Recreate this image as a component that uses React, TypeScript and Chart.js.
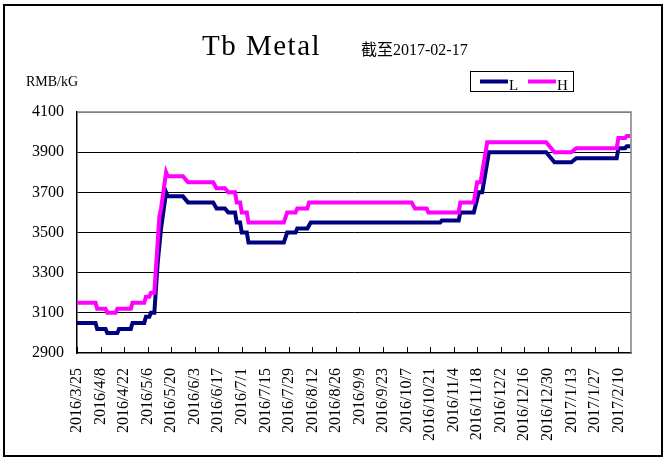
import React, { useEffect, useRef } from "react";
import { Chart, registerables } from "chart.js";

Chart.register(...registerables);

const tickLabels = [
  "2016/3/25", "2016/4/8", "2016/4/22", "2016/5/6", "2016/5/20", "2016/6/3",
  "2016/6/17", "2016/7/1", "2016/7/15", "2016/7/29", "2016/8/12", "2016/8/26",
  "2016/9/9", "2016/9/23", "2016/10/7", "2016/10/21", "2016/11/4", "2016/11/18",
  "2016/12/2", "2016/12/16", "2016/12/30", "2017/1/13", "2017/1/27", "2017/2/10",
];

const yTicks = [2900, 3100, 3300, 3500, 3700, 3900, 4100];

const hDates = [
  "2016-03-25", "2016-04-05", "2016-04-06", "2016-04-11", "2016-04-12", "2016-04-17",
  "2016-04-18", "2016-04-26", "2016-04-27", "2016-05-04", "2016-05-05", "2016-05-07",
  "2016-05-08", "2016-05-10", "2016-05-13", "2016-05-14", "2016-05-17", "2016-05-18",
  "2016-05-27", "2016-05-30", "2016-06-14", "2016-06-16", "2016-06-21", "2016-06-23",
  "2016-06-27", "2016-06-28", "2016-06-30", "2016-07-01", "2016-07-04", "2016-07-05",
  "2016-07-26", "2016-07-28", "2016-08-02", "2016-08-03", "2016-08-09", "2016-08-10",
  "2016-10-10", "2016-10-12", "2016-10-19", "2016-10-20", "2016-11-07", "2016-11-08",
  "2016-11-16", "2016-11-18", "2016-11-20", "2016-11-24", "2016-12-29", "2017-01-03",
  "2017-01-13", "2017-01-16", "2017-02-09", "2017-02-10", "2017-02-14", "2017-02-15",
  "2017-02-17",
];
const hValues = [
  3150, 3150, 3120, 3120, 3100, 3100,
  3120, 3120, 3150, 3150, 3180, 3180,
  3200, 3200, 3580, 3620, 3800, 3780,
  3780, 3750, 3750, 3720, 3720, 3700,
  3700, 3650, 3650, 3600, 3600, 3550,
  3550, 3600, 3600, 3620, 3620, 3650,
  3650, 3620, 3620, 3600, 3600, 3650,
  3650, 3750, 3750, 3950, 3950, 3900,
  3900, 3920, 3920, 3970, 3970, 3980,
  3980,
];

const lDates = [
  "2016-03-25", "2016-04-05", "2016-04-06", "2016-04-11", "2016-04-12", "2016-04-18",
  "2016-04-19", "2016-04-26", "2016-04-27", "2016-05-04", "2016-05-05", "2016-05-07",
  "2016-05-08", "2016-05-10", "2016-05-12", "2016-05-14", "2016-05-17", "2016-05-18",
  "2016-05-27", "2016-05-30", "2016-06-14", "2016-06-16", "2016-06-21", "2016-06-23",
  "2016-06-27", "2016-06-28", "2016-06-30", "2016-07-01", "2016-07-04", "2016-07-05",
  "2016-07-26", "2016-07-28", "2016-08-02", "2016-08-03", "2016-08-09", "2016-08-11",
  "2016-10-27", "2016-10-28", "2016-11-07", "2016-11-08", "2016-11-16", "2016-11-19",
  "2016-11-21", "2016-11-25", "2016-12-29", "2017-01-03", "2017-01-13", "2017-01-16",
  "2017-02-09", "2017-02-10", "2017-02-14", "2017-02-15", "2017-02-17",
];
const lValues = [
  3050, 3050, 3020, 3020, 3000, 3000,
  3020, 3020, 3050, 3050, 3080, 3080,
  3100, 3100, 3350, 3520, 3700, 3680,
  3680, 3650, 3650, 3620, 3620, 3600,
  3600, 3550, 3550, 3500, 3500, 3450,
  3450, 3500, 3500, 3520, 3520, 3550,
  3550, 3560, 3560, 3600, 3600, 3700,
  3700, 3900, 3900, 3850, 3850, 3870,
  3870, 3920, 3920, 3930, 3930,
];

const START = Date.UTC(2016, 2, 25);
function dayOf(s: string): number {
  const [y, m, d] = s.split("-").map(Number);
  return Math.round((Date.UTC(y, m - 1, d) - START) / 86400000);
}

const SERIF = '"Liberation Serif", "Times New Roman", serif';

const decorPlugin = {
  id: "decor",
  afterDraw(chart: any) {
    const ctx = chart.ctx as CanvasRenderingContext2D;
    const { left, right, top, bottom } = chart.chartArea;
    ctx.save();
    // plot area gray top/right border
    ctx.strokeStyle = "#808080";
    ctx.lineWidth = 1.5;
    ctx.beginPath();
    ctx.moveTo(left, top);
    ctx.lineTo(right, top);
    ctx.lineTo(right, bottom);
    ctx.stroke();
    // x tick marks (inside)
    const xs = chart.scales.x;
    ctx.strokeStyle = "#000";
    ctx.lineWidth = 1;
    ctx.beginPath();
    xs.ticks.forEach((t: any) => {
      const px = Math.round(xs.getPixelForValue(t.value)) + 0.5;
      ctx.moveTo(px, bottom);
      ctx.lineTo(px, bottom - 6);
    });
    ctx.stroke();

    ctx.fillStyle = "#000";
    ctx.textAlign = "left";
    ctx.textBaseline = "alphabetic";
    // title
    ctx.font = `29px ${SERIF}`;
    (ctx as any).letterSpacing = "1.5px";
    ctx.fillText("Tb Metal", 202, 55);
    (ctx as any).letterSpacing = "0px";
    // subtitle
    ctx.font = `16px "Liberation Serif", "Noto Sans CJK SC", serif`;
    ctx.fillText("截至2017-02-17", 361, 55);
    // unit
    ctx.font = `14px ${SERIF}`;
    ctx.fillText("RMB/kG", 26, 86);

    // legend
    ctx.strokeStyle = "#000";
    ctx.lineWidth = 1;
    ctx.strokeRect(470.5, 71.5, 103, 20);
    ctx.lineWidth = 4;
    ctx.lineCap = "butt";
    ctx.strokeStyle = "#000080";
    ctx.beginPath();
    ctx.moveTo(480, 81.5);
    ctx.lineTo(508, 81.5);
    ctx.stroke();
    ctx.strokeStyle = "#FF00FF";
    ctx.beginPath();
    ctx.moveTo(528, 81.5);
    ctx.lineTo(556, 81.5);
    ctx.stroke();
    ctx.font = `15px ${SERIF}`;
    ctx.fillText("L", 509, 90);
    ctx.fillText("H", 557, 90);

    // outer border
    ctx.strokeStyle = "#000";
    ctx.lineWidth = 2;
    ctx.strokeRect(4, 5, 658, 451);
    ctx.restore();
  },
};

export default function App() {
  const ref = useRef<HTMLCanvasElement | null>(null);

  useEffect(() => {
    if (!ref.current) return;
    const chart = new Chart(ref.current, {
      type: "line",
      data: {
        datasets: [
          {
            label: "L",
            data: lDates.map((d, i) => ({ x: dayOf(d), y: lValues[i] })),
            borderColor: "#000080",
            backgroundColor: "#000080",
            borderWidth: 4,
            pointRadius: 0,
            tension: 0,
            order: 2,
          },
          {
            label: "H",
            data: hDates.map((d, i) => ({ x: dayOf(d), y: hValues[i] })),
            borderColor: "#FF00FF",
            backgroundColor: "#FF00FF",
            borderWidth: 4,
            pointRadius: 0,
            tension: 0,
            order: 1,
          },
        ],
      },
      options: {
        animation: false,
        responsive: false,
        devicePixelRatio: 1,
        layout: { padding: { left: 0, top: 112, right: 34, bottom: 0 } },
        plugins: {
          legend: { display: false },
          title: { display: false },
          tooltip: { enabled: false },
        },
        scales: {
          x: {
            type: "linear",
            min: 0,
            max: 329.5,
            afterFit: (s: any) => {
              s.height = 111;
            },
            afterBuildTicks: (s: any) => {
              s.ticks = tickLabels.map((_, i) => ({ value: i * 14 }));
            },
            ticks: {
              autoSkip: false,
              maxRotation: 90,
              minRotation: 90,
              padding: 15,
              color: "#000",
              font: { family: SERIF, size: 16 },
              callback: (v: any) => tickLabels[Math.round(Number(v) / 14)] ?? "",
            },
            grid: { display: false, drawTicks: false },
            border: { display: true, color: "#000", width: 1.5 },
          },
          y: {
            type: "linear",
            min: 2900,
            max: 4100,
            afterFit: (s: any) => {
              s.width = 77;
            },
            afterBuildTicks: (s: any) => {
              s.ticks = yTicks.map((v) => ({ value: v }));
            },
            ticks: {
              padding: 13,
              color: "#000",
              font: { family: SERIF, size: 16 },
              callback: (v: any) => String(v),
            },
            grid: {
              drawTicks: false,
              lineWidth: 1,
              color: (c: any) =>
                c.tick && c.tick.value === 4100
                  ? "#808080"
                  : c.tick && c.tick.value === 2900
                  ? "rgba(0,0,0,0)"
                  : "#000",
            },
            border: { display: true, color: "#000", width: 1.5 },
          },
        },
      },
      plugins: [decorPlugin],
    });
    return () => chart.destroy();
  }, []);

  return (
    <div style={{ position: "fixed", left: 0, top: 0, width: 665, height: 464, background: "#fff" }}>
      <canvas ref={ref} width={665} height={464} style={{ display: "block" }} />
    </div>
  );
}
